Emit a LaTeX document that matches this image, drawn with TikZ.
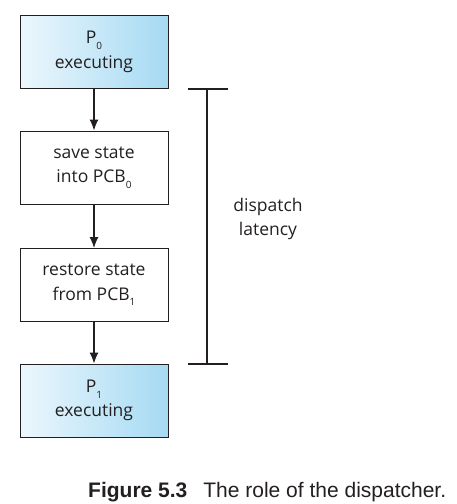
\documentclass[tikz,border=0pt]{standalone}
\usepackage{fontspec}
\setmainfont{Open Sans}
\newfontfamily\capfont{Liberation Sans}
\definecolor{runL}{RGB}{236,247,253}
\definecolor{runR}{RGB}{165,218,243}
\definecolor{ink}{RGB}{35,31,32}
\begin{document}
\begin{tikzpicture}[x=1pt,y=-1pt,
  box/.style={draw=ink, line width=1pt, minimum width=148pt, minimum height=73pt,
    inner sep=0pt, align=center, text=ink, font=\fontsize{17.5}{24.5}\selectfont},
  runbox/.style={box, left color=runL, right color=runR},
  arr/.style={-{Latex[length=11pt,width=9pt]}, line width=1.1pt, ink},
  brk/.style={line width=1.1pt, ink}]
\usetikzlibrary{arrows.meta}
\useasboundingbox (0,0) rectangle (457,504);
\newcommand{\sbs}[1]{\raisebox{-0.6ex}{\fontsize{10}{10}\selectfont #1}}
\node[runbox] (p0) at (94,52) {P\sbs{0}\\executing};
\node[box] (save) at (94,167.5) {save state\\into PCB\sbs{0}};
\node[box] (rest) at (94,285) {restore state\\from PCB\sbs{1}};
\node[runbox] (p1) at (94,400.5) {P\sbs{1}\\executing};
\draw[arr] (p0) -- (save);
\draw[arr] (save) -- (rest);
\draw[arr] (rest) -- (p1);
\coordinate (bt) at (207,89);
\coordinate (bb) at (207,364);
\draw[brk] (bt) -- (bb);
\draw[brk] ([xshift=-19pt]bt) -- ([xshift=21pt]bt);
\draw[brk] ([xshift=-19pt]bb) -- ([xshift=21pt]bb);
\node[align=center, text=ink, font=\fontsize{17.5}{24}\selectfont] (lat) at (268,219) {dispatch\\latency};
\node[anchor=base west, inner sep=0pt, text=ink, font=\capfont\fontsize{21}{24}\selectfont] (cap) at (88,497)
  {\textbf{Figure 5.3}\hspace{16pt}The role of the dispatcher.};
\end{tikzpicture}
\end{document}
